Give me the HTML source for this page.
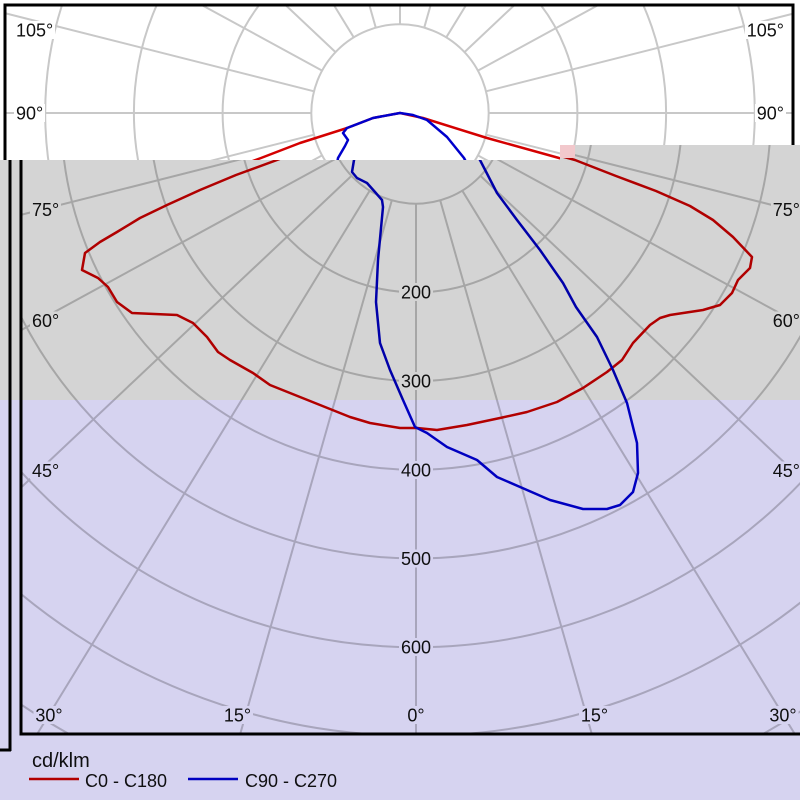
<!DOCTYPE html>
<html>
<head>
<meta charset="utf-8">
<style>
html,body{margin:0;padding:0;background:#fff;width:800px;height:800px;overflow:hidden;}
svg{display:block;}
</style>
</head>
<body>
<svg width="800" height="800" viewBox="0 0 800 800" overflow="hidden" xmlns="http://www.w3.org/2000/svg" xmlns:xlink="http://www.w3.org/1999/xlink" font-family="'Liberation Sans', 'DejaVu Sans', sans-serif">
<defs>
  <clipPath id="cf"><rect x="5" y="5" width="788" height="727"/></clipPath>
  <clipPath id="cb"><path d="M0,160H560V145H800V800H0Z"/></clipPath>
  <g id="chart">
    <rect x="5" y="5" width="788" height="727" fill="#ffffff"/>
    <g clip-path="url(#cf)">
      <g fill="none" stroke="#c8c8c8" stroke-width="2">
        <circle cx="400" cy="113" r="88.7"/>
        <circle cx="400" cy="113" r="177.4"/>
        <circle cx="400" cy="113" r="266.1"/>
        <circle cx="400" cy="113" r="354.8"/>
        <circle cx="400" cy="113" r="443.5"/>
        <circle cx="400" cy="113" r="532.2"/>
        <circle cx="400" cy="113" r="620.9"/>
        <path d="M5,702.5A709.6,709.6 0 0 0 53,732 M747,732A709.6,709.6 0 0 0 795,702.5"/>
        <path d="M400,201.7V732
        M424.2,198.3L575.8,732 M375.8,198.3L224.2,732
        M446.3,188.7L778.8,732 M353.7,188.7L21.2,732
        M464.5,173.9L800,490.4 M335.5,173.9L0,490.4
        M477.9,155.4L800,330.9 M322.1,155.4L0,330.9
        M486,134.7L800,214.1 M314,134.7L0,214.1
        M488.7,113H800 M311.3,113H0
        M486,91.3L800,11.9 M314,91.3L0,11.9
        M477.9,70.6L607.5,0 M322.1,70.6L192.5,0
        M464.5,52.1L519.8,0 M335.5,52.1L280.2,0
        M446.3,37.3L469.2,0 M353.7,37.3L330.8,0
        M424.2,27.7L432.1,0 M375.8,27.7L367.9,0
        M400,24.3V0"/>
      </g>
      <g fill="#ffffff">
        <rect x="14" y="21" width="41" height="18"/>
        <rect x="14" y="104" width="31" height="18"/>
        <rect x="14" y="198.5" width="31" height="18"/>
        <rect x="14" y="309.5" width="31" height="18"/>
        <rect x="14" y="459.5" width="31" height="18"/>
        <rect x="745" y="21" width="41" height="18"/>
        <rect x="755" y="104" width="31" height="18"/>
        <rect x="755" y="198.5" width="31" height="18"/>
        <rect x="755" y="309.5" width="31" height="18"/>
        <rect x="755" y="459.5" width="31" height="18"/>
        <rect x="17.5" y="704" width="31" height="18"/>
        <rect x="206" y="704" width="31" height="18"/>
        <rect x="389.5" y="704" width="21" height="18"/>
        <rect x="563" y="704" width="31" height="18"/>
        <rect x="751.5" y="704" width="31" height="18"/>
        <rect x="383" y="281" width="34" height="18"/>
        <rect x="383" y="370" width="34" height="18"/>
        <rect x="383" y="459" width="34" height="18"/>
        <rect x="383" y="547.5" width="34" height="18"/>
        <rect x="383" y="636" width="34" height="18"/>
      </g>
      <g fill="#111" font-size="18">
        <text x="16" y="36.5">105°</text>
        <text x="16" y="119.5">90°</text>
        <text x="16" y="214">75°</text>
        <text x="16" y="325">60°</text>
        <text x="16" y="475">45°</text>
        <g text-anchor="end">
          <text x="784" y="36.5">105°</text>
          <text x="784" y="119.5">90°</text>
          <text x="784" y="214">75°</text>
          <text x="784" y="325">60°</text>
          <text x="784" y="475">45°</text>
        </g>
        <g text-anchor="middle">
          <text x="33" y="719.5">30°</text>
          <text x="221.5" y="719.5">15°</text>
          <text x="400" y="719.5">0°</text>
          <text x="578.5" y="719.5">15°</text>
          <text x="767" y="719.5">30°</text>
          <text x="400" y="296.5">200</text>
          <text x="400" y="385.5">300</text>
          <text x="400" y="474.5">400</text>
          <text x="400" y="563">500</text>
          <text x="400" y="651.5">600</text>
        </g>
      </g>
      <polyline fill="none" stroke="#d40000" stroke-width="2.5" stroke-linejoin="round" stroke-linecap="round"
        points="400,113 373,118 347,128 300,143 261,158 220,173 184,188 151,203 124,216 101,230 84,240 69,251 66,268 82,276 92,285 101,300 116,311 161,313 177,321 191,335 202,350 214,358 237,371 254,383 284,395 334,415 354,421 384,426 401,426 421,428 451,423 484,416 511,410 541,400 567,386 591,370 606,358 617,341 634,323 644,316 654,313 687,308 704,303 716,291 722,278 734,266 736,255 717,235 697,218 674,204 640,189 600,174 559,158 487,138 423,118 400,113"/>
      <polyline fill="none" stroke="#0000cc" stroke-width="2.5" stroke-linejoin="round" stroke-linecap="round"
        points="400,113 413,115 427,120 447,137 464,158 481,191 501,218 524,248 547,281 560,305 581,335 597,368 611,401 621,441 622,471 617,490 604,503 591,507 567,507 534,498 511,488 481,475 461,458 431,445 411,431 399,425 387,398 374,368 364,341 360,300 362,258 367,205 366,198 359,190 351,181 341,176 336,170 338,158 345,146 348,140 343,133 347,128 373,118 400,113"/>
    </g>
    <rect x="5" y="5" width="788" height="727" fill="none" stroke="#000" stroke-width="3"/>
  </g>
</defs>

<use xlink:href="#chart" href="#chart"/>

<g clip-path="url(#cb)">
  <rect x="0" y="0" width="800" height="800" fill="#ffffff"/>
  <g transform="translate(16,2)">
    <use xlink:href="#chart" href="#chart"/>
    <text x="16" y="765" font-size="20" fill="#111">cd/klm</text>
    <line x1="13" y1="777" x2="63" y2="777" stroke="#d40000" stroke-width="2.5"/>
    <text x="69" y="785" font-size="18" fill="#111">C0 - C180</text>
    <line x1="172" y1="777" x2="222" y2="777" stroke="#0000cc" stroke-width="2.5"/>
    <text x="229" y="785" font-size="18" fill="#111">C90 - C270</text>
  </g>
  <rect x="0" y="0" width="800" height="400" fill="#d4d4d4" style="mix-blend-mode:multiply"/>
  <rect x="0" y="400" width="800" height="400" fill="#d6d3f0" style="mix-blend-mode:multiply"/>
</g>

<line x1="10" y1="160" x2="10" y2="751" stroke="#000" stroke-width="3"/>
<line x1="0" y1="750" x2="11" y2="750" stroke="#000" stroke-width="3"/>
<rect x="560" y="145" width="15" height="13" fill="#f2c8cc"/>
</svg>
</body>
</html>
